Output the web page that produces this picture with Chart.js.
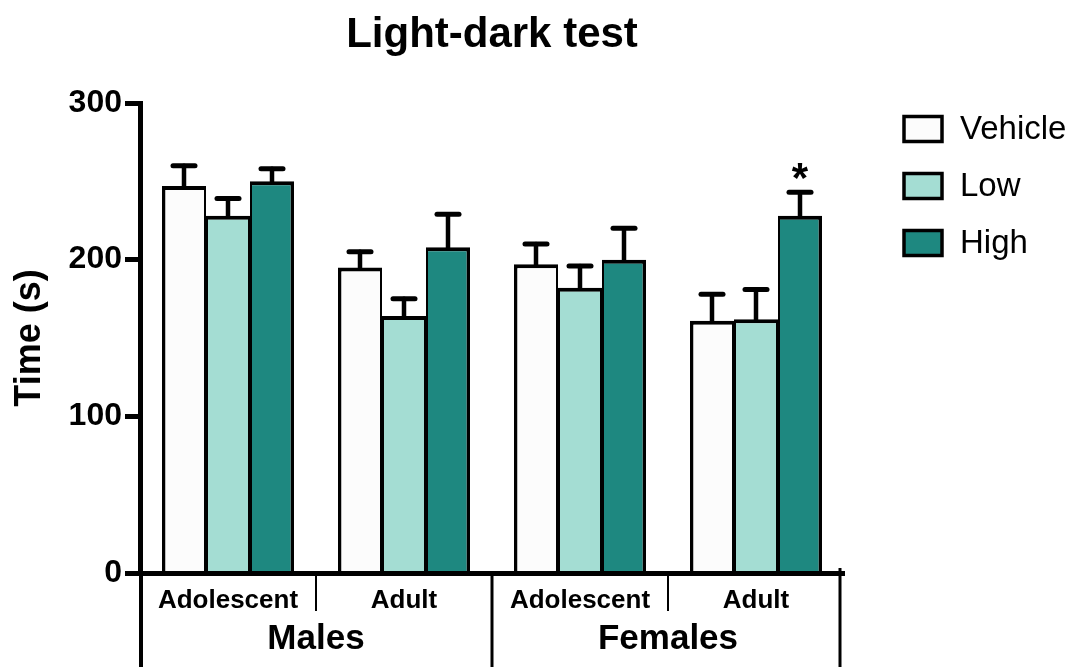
<!DOCTYPE html>
<html>
<head>
<meta charset="utf-8">
<script src="https://cdn.jsdelivr.net/npm/chart.js@4/dist/chart.umd.min.js"></script>
<style>
  html, body { margin: 0; padding: 0; background: #ffffff; }
  #wrap { width: 1075px; height: 667px; }
</style>
</head>
<body>
<div id="wrap"><canvas id="chart" width="1075" height="667"></canvas></div>
<script>
// Sub-groups along the x axis and the sex groups they belong to
const categories = ['Adolescent', 'Adult', 'Adolescent', 'Adult'];
const sexGroups = ['Males', 'Females'];
const seriesNames = ['Vehicle', 'Low', 'High'];

// Mean time in the light compartment (s)
const vehicleMean = [247, 195, 197, 161];
const lowMean = [228, 164, 182, 162];
const highMean = [250, 208, 200, 228];

// Standard error of the mean (upper bar only)
const vehicleSem = [13, 10, 13, 17];
const lowSem = [11, 11, 14, 19];
const highSem = [8, 21, 20, 15];

// Significance marks above the error bars
const vehicleSig = ['', '', '', ''];
const lowSig = ['', '', '', ''];
const highSig = ['', '', '', '*'];

// Y axis ticks
const yTicks = [0, 100, 200, 300];

const FONT = '"Liberation Sans", Arial, Helvetica, sans-serif';
const COLORS = ['#FCFCFC', '#A4DDD3', '#1E8880'];

const means = [vehicleMean, lowMean, highMean];
const sems = [vehicleSem, lowSem, highSem];
const sigs = [vehicleSig, lowSig, highSig];

// Shared edges between neighbouring bars are split between both bars
const borderWidths = [
  { top: 4, left: 3.5, right: 2, bottom: 0 },
  { top: 4, left: 2, right: 2, bottom: 0 },
  { top: 4, left: 2, right: 3.5, bottom: 0 }
];

const datasets = seriesNames.map((name, i) => ({
  label: name,
  data: means[i],
  backgroundColor: COLORS[i],
  borderColor: '#000000',
  borderWidth: borderWidths[i],
  borderSkipped: 'start',
  categoryPercentage: 0.75,
  barPercentage: 1.0
}));

// Upper error bars, caps and significance stars
const errorBars = {
  id: 'errorBars',
  afterDatasetsDraw(chart) {
    const ctx = chart.ctx;
    const y = chart.scales.y;
    ctx.save();
    ctx.strokeStyle = '#000000';
    ctx.fillStyle = '#000000';
    ctx.lineCap = 'round';
    chart.data.datasets.forEach((ds, di) => {
      const meta = chart.getDatasetMeta(di);
      meta.data.forEach((bar, i) => {
        const top = y.getPixelForValue(means[di][i]);
        const cap = y.getPixelForValue(means[di][i] + sems[di][i]);
        ctx.lineWidth = 4.5;
        ctx.beginPath();
        ctx.moveTo(bar.x, top);
        ctx.lineTo(bar.x, cap);
        ctx.stroke();
        ctx.lineWidth = 5;
        ctx.beginPath();
        ctx.moveTo(bar.x - 11, cap);
        ctx.lineTo(bar.x + 11, cap);
        ctx.stroke();
        if (sigs[di][i]) {
          ctx.font = 'bold 42px ' + FONT;
          ctx.textAlign = 'center';
          ctx.textBaseline = 'alphabetic';
          ctx.fillText(sigs[di][i], bar.x, cap);
        }
      });
    });
    ctx.restore();
  }
};

// Dividers under the x axis and the Males / Females row
const groupAxis = {
  id: 'groupAxis',
  afterDraw(chart) {
    const ctx = chart.ctx;
    const xs = chart.scales.x;
    const area = chart.chartArea;
    const n = categories.length;
    const px = i => xs.getPixelForValue(i);
    const bounds = [xs.left];
    for (let i = 0; i < n - 1; i++) bounds.push((px(i) + px(i + 1)) / 2);
    bounds.push(xs.right);
    const axisY = area.bottom;
    ctx.save();
    ctx.strokeStyle = '#000000';
    // y axis carried down through the label rows
    ctx.lineWidth = 4;
    ctx.beginPath();
    ctx.moveTo(area.left + 1, axisY);
    ctx.lineTo(area.left + 1, chart.height);
    ctx.stroke();
    const perGroup = n / sexGroups.length;
    bounds.forEach((bx, k) => {
      if (k === 0) return;
      const major = k % perGroup === 0;
      const last = k === bounds.length - 1;
      const lx = last ? bx - 4 : bx;
      ctx.lineWidth = major ? 3 : 2;
      ctx.beginPath();
      ctx.moveTo(lx, last ? axisY - 5 : axisY);
      ctx.lineTo(lx, major ? chart.height : axisY + 38);
      ctx.stroke();
    });
    ctx.fillStyle = '#000000';
    ctx.font = 'bold 35px ' + FONT;
    ctx.textAlign = 'center';
    ctx.textBaseline = 'middle';
    sexGroups.forEach((g, gi) => {
      const cx = (bounds[gi * perGroup] + bounds[(gi + 1) * perGroup]) / 2;
      ctx.fillText(g, cx, 639);
    });
    ctx.restore();
  }
};

// Legend to the right of the plot
const sideLegend = {
  id: 'sideLegend',
  afterDraw(chart) {
    const ctx = chart.ctx;
    const left = chart.chartArea.right + 60;
    ctx.save();
    ctx.font = '33px ' + FONT;
    ctx.textBaseline = 'middle';
    ctx.textAlign = 'left';
    chart.data.datasets.forEach((ds, i) => {
      const cy = 129 + i * 57;
      ctx.fillStyle = ds.backgroundColor;
      ctx.fillRect(left, cy - 12.5, 38, 25);
      ctx.lineWidth = 3.5;
      ctx.strokeStyle = '#000000';
      ctx.strokeRect(left, cy - 12.5, 38, 25);
      ctx.fillStyle = '#000000';
      ctx.fillText(ds.label, left + 56, cy + 1);
    });
    ctx.restore();
  }
};

new Chart(document.getElementById('chart'), {
  type: 'bar',
  data: { labels: categories, datasets },
  plugins: [errorBars, groupAxis, sideLegend],
  options: {
    responsive: false,
    animation: false,
    devicePixelRatio: 1,
    layout: { padding: { left: 0, right: 231, top: 0, bottom: 0 } },
    plugins: {
      legend: { display: false },
      tooltip: { enabled: false },
      title: {
        display: true,
        text: 'Light-dark test',
        fullSize: false,
        color: '#000000',
        font: { family: FONT, size: 42, weight: 'bold', lineHeight: 1.2 },
        padding: { top: 10, bottom: 42.6 }
      }
    },
    scales: {
      x: {
        type: 'category',
        offset: true,
        grid: { display: false, drawTicks: false },
        border: { display: true, color: '#000000', width: 5, z: 1 },
        ticks: {
          color: '#000000',
          padding: 12,
          font: { family: FONT, size: 26, weight: 'bold' }
        },
        afterFit(scale) { scale.height = 94; }
      },
      y: {
        min: 0,
        max: 300,
        afterBuildTicks(scale) { scale.ticks = yTicks.map(v => ({ value: v })); },
        ticks: {
          color: '#000000',
          padding: 3,
          font: { family: FONT, size: 32, weight: 'bold' }
        },
        grid: {
          drawOnChartArea: false,
          drawTicks: true,
          tickLength: 15,
          tickWidth: 5,
          tickColor: '#000000'
        },
        border: { display: true, color: '#000000', width: 5, z: 1 },
        title: {
          display: true,
          text: 'Time (s)',
          color: '#000000',
          font: { family: FONT, size: 36, weight: 'bold', lineHeight: 1.2 },
          padding: { top: 8, bottom: 0 }
        },
        afterFit(scale) { scale.width = 140; }
      }
    }
  }
});
</script>
</body>
</html>
